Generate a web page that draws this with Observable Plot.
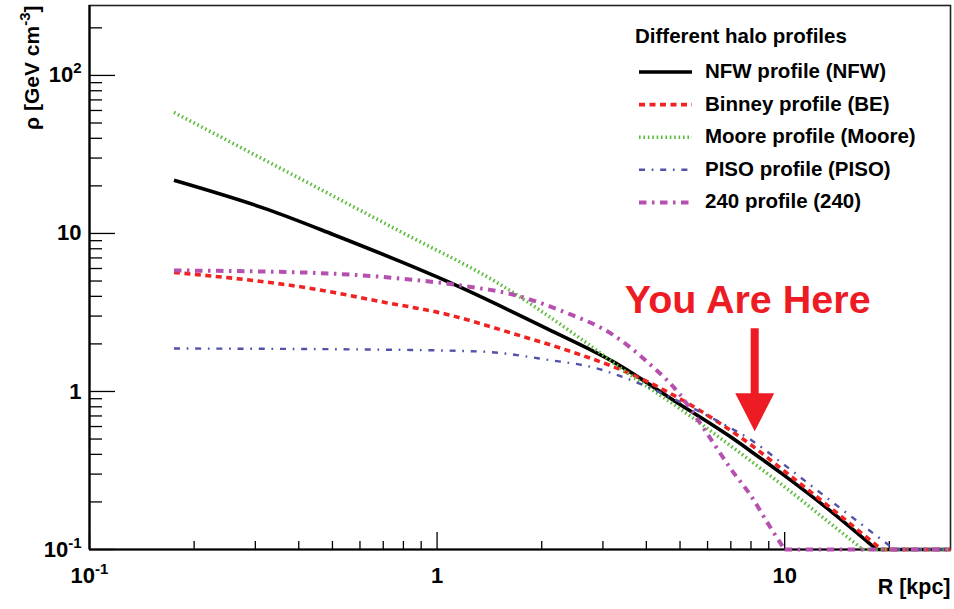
<!DOCTYPE html>
<html>
<head>
<meta charset="utf-8">
<script src="https://cdn.jsdelivr.net/npm/d3@7"></script>
<script src="https://cdn.jsdelivr.net/npm/@observablehq/plot@0.6"></script>
<style>
  html, body { margin: 0; padding: 0; background: #fff; }
  #chart { width: 954px; height: 609px; }
</style>
</head>
<body>
<div id="chart"></div>
<script>
// Galactocentric radius R (kpc) and dark-matter density rho (GeV cm^-3), one pair of arrays per halo profile.
// Each curve ends where it reaches the bottom of the density axis.
const nfwR     = [0.175, 0.325, 0.502, 0.783, 1.07, 2.07, 3.2, 4.99, 6.95, 8.1, 9.86, 13.7, 18.4];
const nfwRho   = [21.7, 14.2, 9.85, 6.65, 4.97, 2.5, 1.55, 0.83, 0.52, 0.41, 0.30, 0.172, 0.1];

const beR      = [0.175, 0.452, 0.686, 1.07, 1.65, 2.58, 3.2, 4.01, 5.58, 8.1, 9.86, 13.7, 19.0];
const beRho    = [5.67, 4.42, 3.71, 3.07, 2.33, 1.71, 1.44, 1.16, 0.78, 0.45, 0.32, 0.18, 0.1];

const mooreR   = [0.175, 0.404, 0.783, 1.52, 2.58, 3.58, 4.99, 6.21, 8.1, 9.86, 13.7, 16.8];
const mooreRho = [58.3, 22.2, 10.3, 4.75, 2.17, 1.28, 0.78, 0.55, 0.355, 0.255, 0.143, 0.1];

const pisoR    = [0.175, 0.686, 1.33, 2.07, 2.88, 3.58, 4.99, 6.5, 8.1, 9.86, 13.7, 20.7];
const pisoRho  = [1.87, 1.84, 1.79, 1.59, 1.40, 1.19, 0.86, 0.64, 0.485, 0.35, 0.20, 0.1];

const p240R    = [0.175, 0.404, 0.78, 1.22, 1.65, 2.3, 3.2, 4.01, 4.99, 5.8, 7.1, 7.95, 9.06, 10.0];
const p240Rho  = [5.83, 5.67, 5.19, 4.62, 4.11, 3.21, 2.29, 1.55, 0.96, 0.60, 0.31, 0.223, 0.14, 0.1];

const seriesNames = ["NFW profile (NFW)", "Binney profile (BE)", "Moore profile (Moore)", "PISO profile (PISO)", "240 profile (240)"];

// Axis ranges and ticks
const xDomain = [0.1, 30];
const yDomain = [0.1, 277];
const xMajor = [0.1, 1, 10];
const xTickLabels = ["10^{-1}", "1", "10"];
const xMinor = [0.2, 0.3, 0.4, 0.5, 0.6, 0.7, 0.8, 0.9, 2, 3, 4, 5, 6, 7, 8, 9, 20];
const yMajor = [0.1, 1, 10, 100];
const yTickLabels = ["10^{-1}", "1", "10", "10^{2}"];
const yMinor = [0.2, 0.3, 0.4, 0.5, 0.6, 0.7, 0.8, 0.9, 2, 3, 4, 5, 6, 7, 8, 9,
                20, 30, 40, 50, 60, 70, 80, 90, 200];

// Sun's position marker
const sunR = 8.2;
const sunRho = 0.56;

// Line styles per profile
const styles = [
  {color: "#000000", width: 3.6, dash: null},
  {color: "#f02222", width: 3.6, dash: "6,4.5"},
  {color: "#5cbc3e", width: 3.6, dash: "1.6,2.8"},
  {color: "#5252a8", width: 2.4, dash: "6,6.7,1.7,6.8"},
  {color: "#b650ae", width: 4, dash: "7.5,5.5,2.5,5.5"}
];

const pairs = [[nfwR, nfwRho], [beR, beRho], [mooreR, mooreRho], [pisoR, pisoRho], [p240R, p240Rho]];
const series = pairs.map(([R, rho], i) => ({
  name: seriesNames[i],
  ...styles[i],
  points: R.map((r, j) => ({R: r, rho: rho[j]})),
  // below the axis range the curve runs along the bottom edge
  floor: [{R: R[R.length - 1], rho: rho[rho.length - 1]}, {R: xDomain[1], rho: rho[rho.length - 1]}]
}));

const W = 954, H = 609, mL = 89, mR = 4, mT = 5, mB = 60;
const frameW = W - mL - mR;
const frameH = H - mT - mB;
const font = "'Liberation Sans', Arial, Helvetica, sans-serif";
const red = "#ed1c24";

// Arrow glyph: tip at the origin, shaft pointing up
const arrowGlyph = {
  draw(ctx) {
    ctx.moveTo(-4, -103);
    ctx.lineTo(4, -103);
    ctx.lineTo(4, -38);
    ctx.lineTo(19.5, -38);
    ctx.lineTo(0, 0);
    ctx.lineTo(-19.5, -38);
    ctx.lineTo(-4, -38);
    ctx.closePath();
  }
};

const curveMarks = [];
for (const s of series) {
  curveMarks.push(Plot.line(s.points, {
    x: "R", y: "rho", stroke: s.color, strokeWidth: s.width,
    strokeDasharray: s.dash, strokeLinecap: "butt", strokeLinejoin: "miter", curve: "monotone-x"
  }));
  curveMarks.push(Plot.line(s.floor, {
    x: "R", y: "rho", stroke: s.color, strokeWidth: s.width,
    strokeDasharray: s.dash, strokeLinecap: "butt"
  }));
}

const chart = Plot.plot({
  width: W, height: H,
  marginLeft: mL, marginRight: mR, marginTop: mT, marginBottom: mB,
  x: {type: "log", domain: xDomain, axis: null},
  y: {type: "log", domain: yDomain, axis: null},
  style: {background: "#fff", fontFamily: font, color: "#000"},
  marks: [
    Plot.frame({stroke: "#222", strokeWidth: 1.6}),
    // inward ticks
    Plot.ruleX(xMajor, {x: d => d, insetTop: frameH - 17, stroke: "#000", strokeWidth: 1.3}),
    Plot.ruleX(xMinor, {x: d => d, insetTop: frameH - 8, stroke: "#000", strokeWidth: 1.3}),
    Plot.ruleY(yMajor, {y: d => d, insetRight: frameW - 26, stroke: "#000", strokeWidth: 1.3}),
    Plot.ruleY(yMinor, {y: d => d, insetRight: frameW - 13, stroke: "#000", strokeWidth: 1.3}),
    Plot.ruleX([xDomain[0]], {x: d => d, stroke: "#000", strokeWidth: 2.2}),
    Plot.ruleY([yDomain[0]], {y: d => d, stroke: "#000", strokeWidth: 2.2}),
    // tick labels
    Plot.text(xMajor, {x: d => d, text: (d, i) => xTickLabels[i], frameAnchor: "bottom",
      lineAnchor: "bottom", dy: 33, fontSize: 22, fontWeight: "bold", fill: "#000"}),
    Plot.text(yMajor, {y: d => d, text: (d, i) => yTickLabels[i], frameAnchor: "left",
      textAnchor: "end", lineAnchor: "middle", dx: -8, fontSize: 22, fontWeight: "bold", fill: "#000"}),
    // axis titles
    Plot.text(["R [kpc]"], {text: d => d, frameAnchor: "bottom-right", textAnchor: "end",
      lineAnchor: "bottom", dy: 44, fontSize: 21.5, fontWeight: "bold", fill: "#000"}),
    Plot.text(["ρ [GeV cm^{-3}]"], {text: d => d, frameAnchor: "top-left", rotate: -90,
      textAnchor: "end", lineAnchor: "bottom", dx: -51, dy: 0, fontSize: 21, fontWeight: "bold", fill: "#000"}),
    // profiles
    ...curveMarks,
    // annotation
    Plot.dot([{R: sunR, rho: sunRho}], {x: "R", y: "rho", symbol: arrowGlyph, r: 10, fill: red, stroke: "none"}),
    Plot.text([{R: sunR, rho: sunRho}], {x: "R", y: "rho", text: () => "You Are Here",
      dx: -7, dy: -118, lineAnchor: "bottom", textAnchor: "middle", fontSize: 39.5, fontWeight: "bold", fill: red})
  ]
});

document.getElementById("chart").appendChild(chart);

const svg = d3.select(chart);

// superscripts written as base^{sup}rest
svg.selectAll("text").each(function () {
  const t = this.textContent;
  const m = t.match(/^(.*?)\^\{(.*?)\}(.*)$/);
  if (!m) return;
  const el = d3.select(this);
  el.text(null);
  el.append("tspan").text(m[1]);
  el.append("tspan").attr("font-size", 15).attr("dy", -9).text(m[2]);
  if (m[3]) el.append("tspan").attr("dy", 9).text(m[3]);
});

// legend inside the frame, top right
const leg = svg.append("g")
  .attr("font-family", font)
  .attr("font-weight", "bold")
  .attr("font-size", 20.5)
  .attr("text-anchor", "start")
  .attr("fill", "#000");
leg.append("text").attr("x", 635).attr("y", 43).text("Different halo profiles");
series.forEach((s, i) => {
  const yb = 78 + i * 32.6;
  leg.append("line")
    .attr("x1", 639).attr("x2", 692)
    .attr("y1", yb - 6).attr("y2", yb - 6)
    .attr("stroke", s.color)
    .attr("stroke-width", s.width)
    .attr("stroke-dasharray", s.dash);
  leg.append("text").attr("x", 705).attr("y", yb).text(s.name);
});
</script>
</body>
</html>
